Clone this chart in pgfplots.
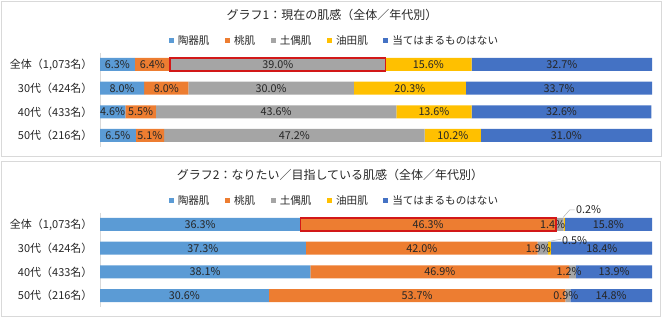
\documentclass[border=0pt]{standalone}
\usepackage{fontspec}
\setmainfont{Noto Sans CJK JP}
\usepackage{pgfplots}
\pgfplotsset{compat=1.18}
\definecolor{cA}{HTML}{5B9BD5}
\definecolor{cB}{HTML}{ED7D31}
\definecolor{cC}{HTML}{A5A5A5}
\definecolor{cD}{HTML}{FFC000}
\definecolor{cE}{HTML}{4472C4}
\definecolor{hlred}{RGB}{210,24,24}
\definecolor{txt}{HTML}{262626}
\definecolor{frm}{HTML}{D9D9D9}
\pgfplotsset{
  base/.style={
    scale only axis, width=552pt, height=94.67pt,
    xmin=0, xmax=100, ymin=-0.5, ymax=3.5, y dir=reverse,
    anchor=south west,
  },
  barax/.style={base,
    xbar stacked, bar width=13pt,
    hide x axis,
    axis y line*=left, y axis line style={draw=frm, line width=0.8pt},
    ytick={0,1,2,3}, major tick length=0pt,
    yticklabels={{全体（1,073名）},{30代（424名）},{40代（433名）},{50代（216名）}},
    yticklabel style={font=\fontsize{11}{13}\selectfont, text=txt, xshift=-4pt},
    legend columns=-1,
    legend style={draw=none, fill=none, font=\fontsize{10.6}{12}\selectfont, text=txt,
      anchor=center, at={(0.4248,1.125)},
      /tikz/every odd column/.append style={column sep=2pt},
      /tikz/every even column/.append style={column sep=13.5pt}},
    legend image code/.code={\fill[##1] (0pt,-2.5pt) rectangle (5pt,2.5pt);},
  },
  labax/.style={base, axis lines=none, clip=false,
    nodes near coords={\pgfmathprintnumber[fixed, fixed zerofill, precision=1, assume math mode=true]{\pgfplotspointmeta}\%},
    point meta=explicit,
    every node near coord/.append style={anchor=center, font=\fontsize{10.8}{12}\selectfont, text=txt, inner sep=0pt},
  },
  sq/.style={draw=none, legend image code/.code={\fill[##1] (0pt,-2.5pt) rectangle (5pt,2.5pt);}},
}
\begin{document}
\begin{tikzpicture}[x=1pt,y=1pt]
% frames
\draw[frm, line width=0.8pt] (1,166) rectangle (661,321);
\draw[frm, line width=0.8pt] (1,6) rectangle (660,161);
% titles
\node[text=txt, font=\fontsize{12}{14}\selectfont] at (332,307) {グラフ1：現在の肌感（全体／年代別）};
\node[text=txt, font=\fontsize{12}{14}\selectfont] at (330,147) {グラフ2：なりたい／目指している肌感（全体／年代別）};

% ---------- Chart 1 ----------
\begin{axis}[barax, at={(100pt,174.67pt)}]
\addplot[fill=cA, sq] coordinates {(6.3,0) (8.0,1) (4.6,2) (6.5,3)};
\addplot[fill=cB, sq] coordinates {(6.4,0) (8.0,1) (5.5,2) (5.1,3)};
\addplot[fill=cC, sq] coordinates {(39.0,0) (30.0,1) (43.6,2) (47.2,3)};
\addplot[fill=cD, sq] coordinates {(15.6,0) (20.3,1) (13.6,2) (10.2,3)};
\addplot[fill=cE, sq] coordinates {(32.7,0) (33.7,1) (32.6,2) (31.0,3)};
\legend{陶器肌,桃肌,土偶肌,油田肌,当てはまるものはない}
\coordinate (ra1) at (axis cs:12.7,-0.265);
\coordinate (rb1) at (axis cs:51.7,0.265);
\end{axis}
\begin{axis}[labax, at={(100pt,174.67pt)}]
\addplot[draw=none, mark=none] coordinates {
 (3.15,0) [6.3] (9.5,0) [6.4] (32.2,0) [39.0] (59.5,0) [15.6] (83.65,0) [32.7]
 (4.0,1) [8.0] (12.0,1) [8.0] (31.0,1) [30.0] (56.15,1) [20.3] (83.15,1) [33.7]
 (2.3,2) [4.6] (7.35,2) [5.5] (31.9,2) [43.6] (60.5,2) [13.6] (83.6,2) [32.6]
 (3.25,3) [6.5] (9.05,3) [5.1] (35.2,3) [47.2] (63.9,3) [10.2] (84.5,3) [31.0]
};
\end{axis}
\draw[color=hlred, line width=1.7pt] (ra1) rectangle (rb1);

% ---------- Chart 2 ----------
\begin{axis}[barax, at={(100pt,14.67pt)}]
\addplot[fill=cA, sq] coordinates {(36.3,0) (37.3,1) (38.1,2) (30.6,3)};
\addplot[fill=cB, sq] coordinates {(46.3,0) (42.0,1) (46.9,2) (53.7,3)};
\addplot[fill=cC, sq] coordinates {(1.4,0) (1.9,1) (1.2,2) (0.9,3)};
\addplot[fill=cD, sq] coordinates {(0.2,0) (0.5,1) (0,2) (0,3)};
\addplot[fill=cE, sq] coordinates {(15.8,0) (18.4,1) (13.9,2) (14.8,3)};
\legend{陶器肌,桃肌,土偶肌,油田肌,当てはまるものはない}
\coordinate (ra2) at (axis cs:36.3,-0.265);
\coordinate (rb2) at (axis cs:82.6,0.265);
\end{axis}
\begin{axis}[labax, at={(100pt,14.67pt)}]
\addplot[draw=none, mark=none] coordinates {
 (18.15,0) [36.3] (59.45,0) [46.3] (82.0,0) [1.4] (92.1,0) [15.8]
 (18.65,1) [37.3] (58.3,1) [42.0] (79.4,1) [1.9] (90.9,1) [18.4]
 (19.05,2) [38.1] (61.55,2) [46.9] (85.0,2) [1.2] (93.15,2) [13.9]
 (15.3,3) [30.6] (57.45,3) [53.7] (84.4,3) [0.9] (92.6,3) [14.8]
};
\addplot[draw=none, mark=none, every node near coord/.append style={anchor=west}] coordinates {
 (86.2,-0.62) [0.2] (83.7,0.66) [0.5]
};
\draw[gray!60, line width=0.5pt] (axis cs:83.9,-0.3) -- (axis cs:85.1,-0.62) -- (axis cs:86.0,-0.62);
\draw[gray!60, line width=0.5pt] (axis cs:81.2,0.72) -- (axis cs:83.5,0.62);
\end{axis}
\draw[color=hlred, line width=1.7pt] (ra2) rectangle (rb2);
\pgfresetboundingbox
\useasboundingbox (0,0) rectangle (663,322);
\end{tikzpicture}
\end{document}
